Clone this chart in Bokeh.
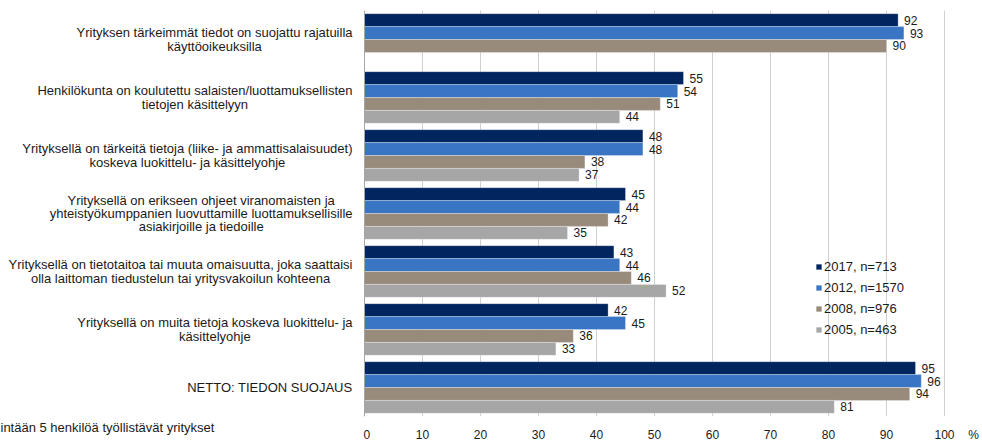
from bokeh.plotting import figure
from bokeh.layouts import row
from bokeh.models import (ColumnDataSource, FactorRange, Range1d, FixedTicker,
                          Legend, LegendItem, Span)
from bokeh.transform import dodge
from bokeh.core.properties import value
from bokeh.embed import file_html
from bokeh.resources import INLINE

# ---------------- data ----------------
categories = [
    "Yrityksen tärkeimmät tiedot on suojattu rajatuilla\nkäyttöoikeuksilla",
    "Henkilökunta on koulutettu salaisten/luottamuksellisten\ntietojen käsittelyyn",
    "Yrityksellä on tärkeitä tietoja (liike- ja ammattisalaisuudet)\nkoskeva luokittelu- ja käsittelyohje",
    "Yrityksellä on erikseen ohjeet viranomaisten ja\nyhteistyökumppanien luovuttamille luottamuksellisille\nasiakirjoille ja tiedoille",
    "Yrityksellä on tietotaitoa tai muuta omaisuutta, joka saattaisi\nolla laittoman tiedustelun tai yritysvakoilun kohteena",
    "Yrityksellä on muita tietoja koskeva luokittelu- ja\nkäsittelyohje",
    "NETTO: TIEDON SUOJAUS",
]
series_names = ["2017, n=713", "2012, n=1570", "2008, n=976", "2005, n=463"]
v2017 = [92, 55, 48, 45, 43, 42, 95]
v2012 = [93, 54, 48, 44, 44, 45, 96]
v2008 = [90, 51, 38, 42, 46, 36, 94]
v2005 = [None, 44, 37, 35, 52, 33, 81]
x_ticks = [0, 10, 20, 30, 40, 50, 60, 70, 80, 90, 100]
footnote = "intään 5 henkilöä työllistävät yritykset"
unit_label = "%"

series_values = [v2017, v2012, v2008, v2005]
colors = ["#00255F", "#3A75C4", "#988B7C", "#A6A6A6"]

FONT = "Liberation Sans"
TXT = "#1a1a1a"

# ---------------- layout constants ----------------
H = 444
LEFT_W = 363          # width of the label panel
MAIN_W = 982 - LEFT_W
TOP, BOTTOM = 10, 25  # frame borders of the bar panel
PX_PER_UNIT = 5.8     # pixels per percentage point
LINE_PX = 13.3        # line step of the category labels

factors = list(reversed(categories))
y_range = FactorRange(*factors)

# ---------------- main bar panel ----------------
x_start = -1.0 / PX_PER_UNIT
x_end = x_start + MAIN_W / PX_PER_UNIT
p = figure(width=MAIN_W, height=H,
           x_range=Range1d(x_start, x_end), y_range=y_range,
           y_axis_location=None,
           output_backend="svg", toolbar_location=None,
           min_border_left=0, min_border_right=0,
           min_border_top=TOP, min_border_bottom=BOTTOM)
p.outline_line_color = None
p.background_fill_color = "white"

unit_pos = 105
p.xaxis.ticker = FixedTicker(ticks=x_ticks + [unit_pos])
p.xaxis.major_label_overrides = {unit_pos: unit_label}
p.xaxis.axis_line_color = None
p.xaxis.major_tick_line_color = None
p.xaxis.minor_tick_line_color = None
p.xaxis.major_tick_out = 0
p.xaxis.major_tick_in = 0
p.xaxis.major_label_standoff = 11
p.xaxis.major_label_text_font = FONT
p.xaxis.major_label_text_font_size = "12px"
p.xaxis.major_label_text_color = TXT

p.xgrid.ticker = FixedTicker(ticks=x_ticks)
p.xgrid.grid_line_color = "#D0D0D0"
p.xgrid.grid_line_width = 1
p.ygrid.grid_line_color = None

p.add_layout(Span(location=0, dimension="height", line_color="#A6A6A6", line_width=1))

bar_h = 0.2226
offsets = [1.5 * bar_h, 0.5 * bar_h, -0.5 * bar_h, -1.5 * bar_h]
items = []
for name, vals, col, off in zip(series_names, series_values, colors, offsets):
    cats = [c for c, v in zip(categories, vals) if v is not None]
    vv = [v for v in vals if v is not None]
    src = ColumnDataSource(dict(cat=cats, val=vv, lab=[str(v) for v in vv]))
    r = p.hbar(y=dodge("cat", off, range=y_range), left=0, right="val",
               height=bar_h, source=src, fill_color=col,
               line_color="white", line_alpha=0.35, line_width=0.8)
    p.text(x="val", y=dodge("cat", off, range=y_range), text="lab", source=src,
           x_offset=6, text_baseline="middle", text_align="left",
           text_font=value(FONT), text_font_size="12px", text_color=TXT)
    items.append(LegendItem(label=name, renderers=[r]))

legend = Legend(items=items, location=(452, 79), orientation="vertical",
                glyph_width=7, glyph_height=7, label_height=14, spacing=6,
                label_standoff=2, padding=0, margin=0,
                border_line_color=None, background_fill_alpha=0,
                label_text_font=FONT, label_text_font_size="13px",
                label_text_color=TXT)
p.add_layout(legend, "center")

# ---------------- left label panel ----------------
W = {' ': 278, 'a': 556, 'b': 556, 'c': 500, 'd': 556, 'e': 556, 'f': 278, 'g': 556,
     'h': 556, 'i': 222, 'j': 222, 'k': 500, 'l': 222, 'm': 833, 'n': 556, 'o': 556,
     'p': 556, 'q': 556, 'r': 333, 's': 500, 't': 278, 'u': 556, 'v': 500, 'w': 722,
     'x': 500, 'y': 500, 'z': 500, 'ä': 556, 'ö': 556, '(': 333, ')': 333, '-': 333,
     '/': 278, ',': 278, ':': 278, '.': 278,
     'A': 667, 'B': 667, 'C': 722, 'D': 722, 'E': 667, 'F': 611, 'G': 778, 'H': 722,
     'I': 278, 'J': 500, 'K': 667, 'L': 556, 'M': 833, 'N': 722, 'O': 778, 'P': 667,
     'Q': 778, 'R': 722, 'S': 667, 'T': 611, 'U': 722, 'V': 667, 'W': 944, 'X': 667,
     'Y': 667, 'Z': 611}


def text_width(s, size=13):
    return max(sum(W.get(ch, 556) for ch in line) for line in s.split("\n")) * size / 1000.0


lf = figure(width=LEFT_W, height=H, x_range=Range1d(0, LEFT_W), y_range=y_range,
            y_axis_location=None,
            output_backend="svg", toolbar_location=None,
            min_border_left=0, min_border_right=0,
            min_border_top=TOP, min_border_bottom=BOTTOM)
lf.grid.grid_line_color = None
lf.outline_line_color = None

# footnote shown as the single tick label of the panel's x axis
foot_pos = text_width(footnote) / 2.0
lf.xaxis.ticker = FixedTicker(ticks=[foot_pos])
lf.xaxis.major_label_overrides = {foot_pos: footnote}
lf.xaxis.axis_line_color = None
lf.xaxis.major_tick_line_color = None
lf.xaxis.minor_tick_line_color = None
lf.xaxis.major_tick_out = 0
lf.xaxis.major_tick_in = 0
lf.xaxis.major_label_standoff = 3
lf.xaxis.major_label_text_font = FONT
lf.xaxis.major_label_text_font_size = "13px"
lf.xaxis.major_label_text_color = TXT

label_right = LEFT_W - 11
lx, ly, lyo, lt = [], [], [], []
for c in categories:
    lines = c.split("\n")
    m = len(lines)
    centre_x = label_right - text_width(c) / 2.0
    for i, ln in enumerate(lines):
        lt.append(ln)
        lx.append(centre_x)
        ly.append(c)
        lyo.append((i - (m - 1) / 2.0) * LINE_PX)
lab_src = ColumnDataSource(dict(txt=lt, x=lx, y=ly, yo=lyo))
lf.text(x="x", y="y", text="txt", y_offset="yo", source=lab_src,
        text_align="center", text_baseline="middle",
        text_font=value(FONT), text_font_size="13px", text_color=TXT)

layout = row(lf, p)
open("out.html", "w").write(file_html(layout, INLINE))
